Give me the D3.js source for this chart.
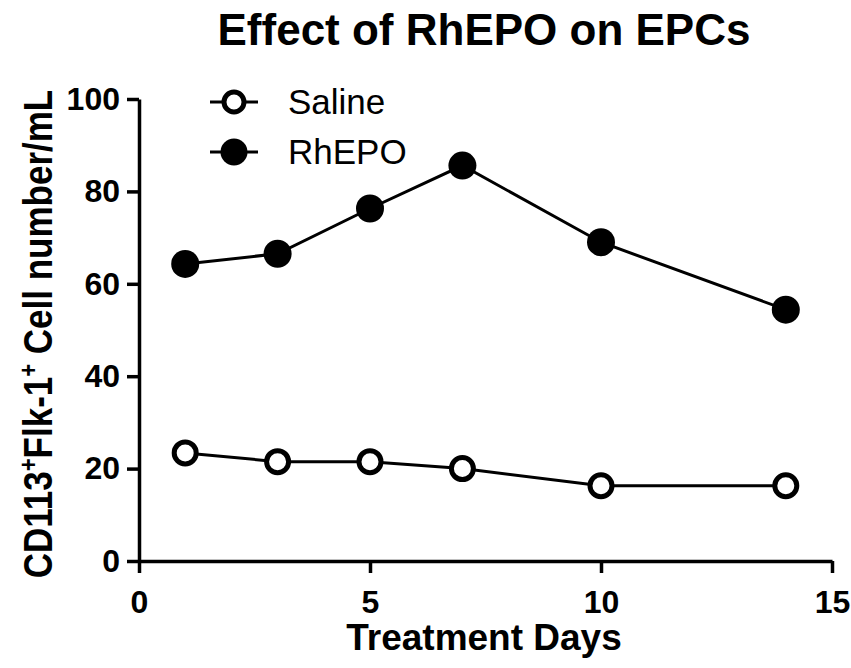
<!DOCTYPE html>
<html>
<head>
<meta charset="utf-8">
<script src="https://cdn.jsdelivr.net/npm/d3@7"></script>
<style>
  body { margin: 0; background: #fff; }
  svg { display: block; }
  text { font-family: "Liberation Sans", Arial, Helvetica, sans-serif; fill: #000; }
</style>
</head>
<body>
<svg id="chart" width="851" height="668"></svg>
<script>
const days = [1, 3, 5, 7, 10, 14];
const saline = [23.4, 21.5, 21.5, 20.0, 16.3, 16.3];
const rhepo = [64.3, 66.5, 76.3, 85.6, 69.0, 54.4];
const seriesNames = ["Saline", "RhEPO"];
const xTicks = [0, 5, 10, 15];
const yTicks = [0, 20, 40, 60, 80, 100];

const svg = d3.select("#chart");
const x = d3.scaleLinear().domain([0, 15]).range([139, 832]);
const y = d3.scaleLinear().domain([0, 100]).range([561, 99]);

// Title
svg.append("text")
  .attr("x", 484).attr("y", 45)
  .attr("text-anchor", "middle")
  .style("font-size", "44px").style("font-weight", "bold")
  .text("Effect of RhEPO on EPCs");

// Axes
const gx = svg.append("g").attr("transform", `translate(0,${y(0)})`)
  .call(d3.axisBottom(x).tickValues(xTicks).tickFormat(d3.format("d")).tickSize(12).tickSizeOuter(0).tickPadding(17));
const gy = svg.append("g").attr("transform", `translate(${x(0)},0)`)
  .call(d3.axisLeft(y).tickValues(yTicks).tickFormat(d3.format("d")).tickSize(12).tickSizeOuter(0).tickPadding(7));
[gx, gy].forEach(g => {
  g.select(".domain").attr("stroke", "#000").attr("stroke-width", 3.5);
  g.selectAll(".tick line").attr("stroke", "#000").attr("stroke-width", 3.5);
  g.selectAll(".tick text").style("font-size", "32px").style("font-weight", "bold")
    .style("font-family", "'Liberation Sans', Arial, sans-serif").attr("fill", "#000");
});

// Axis labels
svg.append("text")
  .attr("x", 484).attr("y", 650)
  .attr("text-anchor", "middle")
  .style("font-size", "37px").style("font-weight", "bold")
  .text("Treatment Days");

const yl = svg.append("text")
  .attr("transform", "translate(52,334) scale(1.18,1) rotate(-90)")
  .attr("text-anchor", "middle")
  .style("font-size", "35px").style("font-weight", "bold");
yl.append("tspan").text("CD113");
yl.append("tspan").attr("dy", -13).style("font-size", "22px").text("+");
yl.append("tspan").attr("dy", 13).text("Flk-1");
yl.append("tspan").attr("dy", -13).style("font-size", "22px").text("+");
yl.append("tspan").attr("dy", 13).text(" Cell number/mL");

// Lines
const line = d3.line().x(d => x(d[0])).y(d => y(d[1]));
const salineData = days.map((d, i) => [d, saline[i]]);
const rhepoData = days.map((d, i) => [d, rhepo[i]]);

svg.append("path").datum(salineData).attr("d", line)
  .attr("fill", "none").attr("stroke", "#000").attr("stroke-width", 3);
svg.append("path").datum(rhepoData).attr("d", line)
  .attr("fill", "none").attr("stroke", "#000").attr("stroke-width", 3);

svg.append("g").selectAll("circle").data(salineData).join("circle")
  .attr("cx", d => x(d[0])).attr("cy", d => y(d[1])).attr("r", 11)
  .attr("fill", "#fff").attr("stroke", "#000").attr("stroke-width", 5);
svg.append("g").selectAll("circle").data(rhepoData).join("circle")
  .attr("cx", d => x(d[0])).attr("cy", d => y(d[1])).attr("r", 14)
  .attr("fill", "#000");

// Legend
const legend = svg.append("g");
seriesNames.forEach((name, i) => {
  const cy = 102 + i * 50;
  legend.append("line").attr("x1", 210).attr("x2", 258).attr("y1", cy).attr("y2", cy)
    .attr("stroke", "#000").attr("stroke-width", 3);
  if (i === 0) {
    legend.append("circle").attr("cx", 234).attr("cy", cy).attr("r", 10)
      .attr("fill", "#fff").attr("stroke", "#000").attr("stroke-width", 5);
  } else {
    legend.append("circle").attr("cx", 234).attr("cy", cy).attr("r", 13.5).attr("fill", "#000");
  }
  legend.append("text").attr("x", 288).attr("y", cy + 12)
    .style("font-size", "35px").text(name);
});
</script>
</body>
</html>
